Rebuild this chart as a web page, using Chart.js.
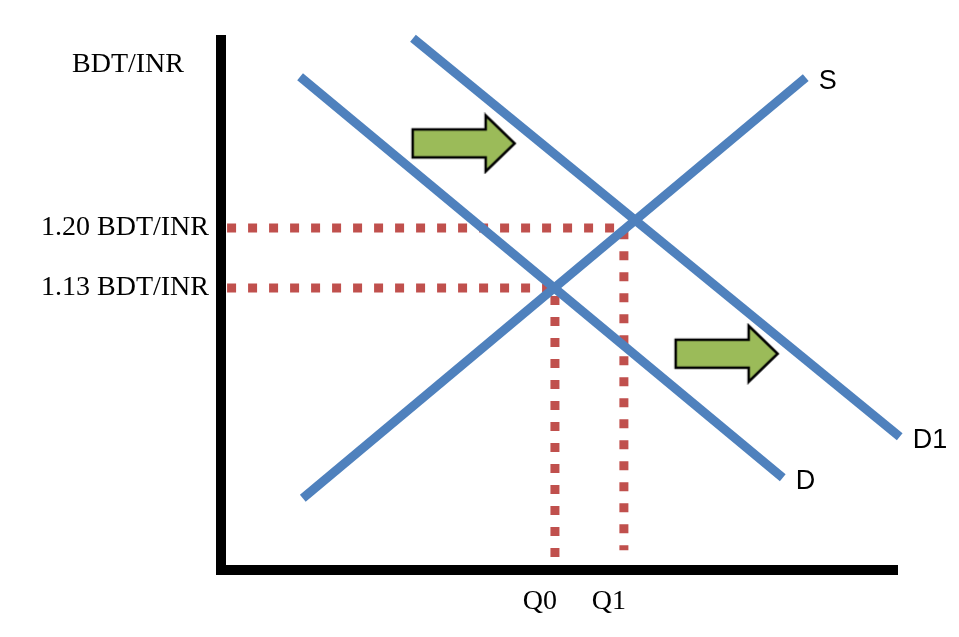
<!DOCTYPE html>
<html>
<head>
<meta charset="utf-8">
<title>BDT/INR supply and demand</title>
<script src="https://cdn.jsdelivr.net/npm/chart.js@4.4.1/dist/chart.umd.min.js"></script>
<style>
  html, body { margin: 0; padding: 0; background: #fff; }
  #wrap { width: 959px; height: 637px; position: relative; }
</style>
</head>
<body>
<div id="wrap"><canvas id="fxChart"></canvas></div>
<script>
// Quantity runs 0..100, price is BDT per INR
const qRange = [0, 100];
const priceRange = [0.80, 1.42];

// Curve end points
const supplyQ = [12.1, 86.5];
const supplyP = [0.884, 1.376];
const demandQ = [11.7, 83.1];
const demandP = [1.377, 0.908];
const demand1Q = [28.4, 100.4];
const demand1P = [1.422, 0.956];
const curveNames = ['S', 'D', 'D1'];

// Equilibrium guides
const eqQ = [49.4, 59.6];
const eqP = [1.13, 1.20];
const eqQLabels = ['Q0', 'Q1'];
const eqPLabels = ['1.13 BDT/INR', '1.20 BDT/INR'];
const guideStartQ = 0.9;
const guideEndP = [0.806, 0.823];

// Shift arrows (centre points)
const arrowQ = [35.9, 74.8];
const arrowP = [1.299, 1.053];

const axisTitle = 'BDT/INR';

const BLUE = '#4f81bd';
const RED = '#c0504d';
const GREEN = '#9bbb59';
const SERIF = '"Liberation Serif", "Times New Roman", serif';

function pts(xs, ys) {
    return xs.map((x, i) => ({ x: x, y: ys[i] }));
}

// green block arrow used as a point style
function makeArrow() {
    const c = document.createElement('canvas');
    c.width = 108;
    c.height = 62;
    const g = c.getContext('2d');
    g.beginPath();
    g.moveTo(3, 17);
    g.lineTo(76, 17);
    g.lineTo(76, 3);
    g.lineTo(105, 31);
    g.lineTo(76, 59);
    g.lineTo(76, 45);
    g.lineTo(3, 45);
    g.closePath();
    g.fillStyle = GREEN;
    g.fill();
    g.lineWidth = 2.5;
    g.strokeStyle = '#000';
    g.stroke();
    return c;
}

function curve(label, xs, ys) {
    return {
        label: label,
        data: pts(xs, ys),
        showLine: true,
        borderColor: BLUE,
        borderWidth: 9,
        borderCapStyle: 'butt',
        pointRadius: 0,
        clip: false,
        order: 1
    };
}

const datasets = [
    curve(curveNames[0], supplyQ, supplyP),
    curve(curveNames[1], demandQ, demandP),
    curve(curveNames[2], demand1Q, demand1P)
];

eqQ.forEach((q, i) => {
    datasets.push({
        label: 'guide ' + eqQLabels[i],
        data: [{ x: guideStartQ, y: eqP[i] }, { x: q, y: eqP[i] }, { x: q, y: guideEndP[i] }],
        showLine: true,
        borderColor: RED,
        borderWidth: 9,
        borderDash: [9, 12],
        borderCapStyle: 'butt',
        pointRadius: 0,
        clip: false,
        order: 2
    });
});

datasets.push({
    label: 'shift',
    data: pts(arrowQ, arrowP),
    showLine: false,
    pointStyle: makeArrow(),
    pointRadius: 5,
    order: 0
});

// curve names and the price axis title
const labelPlugin = {
    id: 'curveLabels',
    afterDatasetsDraw(chart) {
        const ctx = chart.ctx;
        ctx.save();
        ctx.fillStyle = '#000';
        ctx.font = '27px "Liberation Sans", Arial, sans-serif';
        ctx.textAlign = 'left';
        ctx.textBaseline = 'middle';
        curveNames.forEach((name, i) => {
            const meta = chart.getDatasetMeta(i);
            const end = meta.data[meta.data.length - 1];
            ctx.fillText(name, end.x + 13, end.y + 4);
        });
        const area = chart.chartArea;
        ctx.font = '28px ' + SERIF;
        ctx.textAlign = 'right';
        ctx.fillText(axisTitle, area.left - 37, area.top + 25);
        ctx.restore();
    }
};

const ctx = document.getElementById('fxChart').getContext('2d');
new Chart(ctx, {
    type: 'scatter',
    data: { datasets: datasets },
    options: {
        responsive: true,
        maintainAspectRatio: false,
        animation: false,
        layout: { padding: { left: 0, right: 62, top: 40, bottom: 0 } },
        plugins: {
            legend: { display: false },
            tooltip: { enabled: false }
        },
        scales: {
            x: {
                type: 'linear',
                min: qRange[0],
                max: qRange[1],
                grid: { display: false, drawTicks: false },
                border: { display: true, color: '#000', width: 10 },
                afterBuildTicks: s => { s.ticks = eqQ.map(v => ({ value: v })); },
                afterFit: s => { s.height = 67; },
                ticks: {
                    callback: (v, i) => eqQLabels[i],
                    color: '#000',
                    font: { family: SERIF, size: 28 },
                    padding: 15,
                    labelOffset: -15,
                    maxRotation: 0,
                    autoSkip: false
                }
            },
            y: {
                type: 'linear',
                min: priceRange[0],
                max: priceRange[1],
                grid: { display: false, drawTicks: false },
                border: { display: true, color: '#000', width: 10 },
                afterBuildTicks: s => { s.ticks = eqP.map(v => ({ value: v })); },
                afterFit: s => { s.width = 221; },
                ticks: {
                    callback: (v, i) => eqPLabels[i],
                    color: '#000',
                    font: { family: SERIF, size: 28 },
                    padding: 12,
                    autoSkip: false
                }
            }
        }
    },
    plugins: [labelPlugin]
});
</script>
</body>
</html>
